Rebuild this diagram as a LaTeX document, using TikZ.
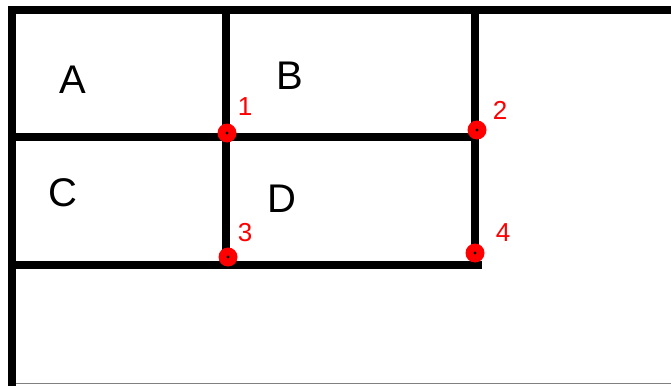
\documentclass[tikz,border=0pt]{standalone}
\usepackage{fontspec}
\setmainfont{Liberation Sans}
\usetikzlibrary{positioning}

\begin{document}
\begin{tikzpicture}[
    x=1pt, y=-1pt,
    wall/.style={line width=8pt, draw=black, line cap=rect},
    room/.style={font=\fontsize{40}{40}\selectfont, text=black, inner sep=0pt},
    corner/.style={circle, fill=red, minimum size=19pt, inner sep=0pt,
        path picture={\fill[black] (path picture bounding box.center) circle (1.6pt);}},
    tag/.style={font=\fontsize{26}{26}\selectfont, text=red, inner sep=0pt}
]
\useasboundingbox (0,0) rectangle (671,385);

% Outer walls
\coordinate (topleft) at (12,10);
\coordinate (topright) at (671,10);
\coordinate (botleft) at (12,385);
\draw [wall] (topright) -- (topleft) -- (botleft);
\draw [gray, line width=1.2pt] (16,383.5) -- (671,383.5);

% Inner walls
\coordinate (midleft) at (12,137);
\coordinate (lowleft) at (12,265);
\coordinate (col1top) at (226,10);
\coordinate (col2top) at (475,10);
\draw [wall] (midleft) -- (475,137);
\draw [wall] (lowleft) -- (478,265);
\draw [wall] (col1top) -- (226,265);
\draw [wall] (col2top) -- (475,265);

% Rooms
\node [room] (roomA) at (73,80) {A};
\node [room] (roomB) at (290,76) {B};
\node [room] (roomC) at (63,193) {C};
\node [room] (roomD) at (282,199) {D};

% Corners
\node [corner] (p1) at (227,133) {};
\node [corner] (p2) at (477,130) {};
\node [corner, minimum width=16pt, minimum height=19pt] (p3) at (228,257) {};
\node [corner] (p4) at (475,253) {};

\node [tag] (n1) at (245,107) {1};
\node [tag] (n2) at (500,110) {2};
\node [tag] (n3) at (245,233) {3};
\node [tag] (n4) at (503,233) {4};

\end{tikzpicture}
\end{document}
